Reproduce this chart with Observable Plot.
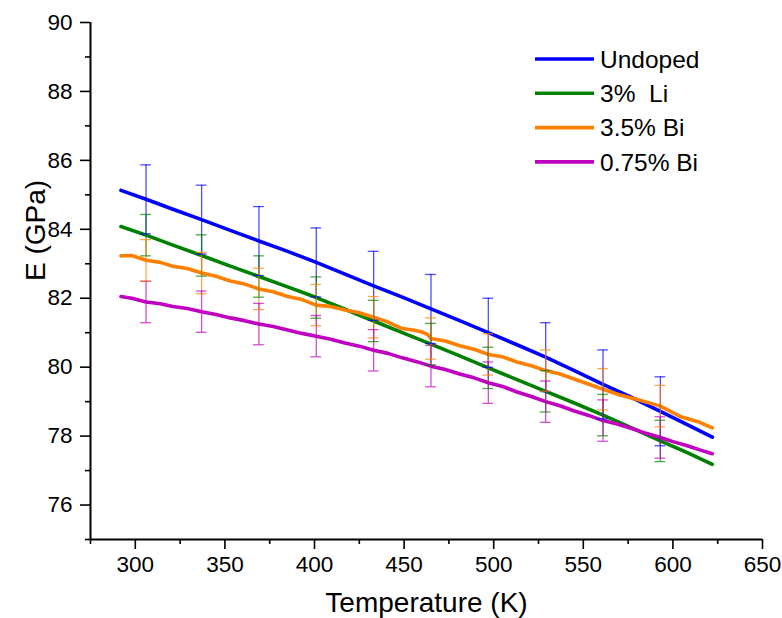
<!DOCTYPE html>
<html>
<head>
<meta charset="utf-8">
<script src="https://cdn.jsdelivr.net/npm/d3@7"></script>
<script src="https://cdn.jsdelivr.net/npm/@observablehq/plot@0.6"></script>
<style>
  html, body { margin: 0; padding: 0; background: #fff; overflow: hidden; }
  #chart svg { display: block; }
</style>
</head>
<body>
<div id="chart"></div>
<script>
// ---- Data ----
const seriesNames = ["Undoped", "3%  Li", "3.5% Bi", "0.75% Bi"];
const seriesColors = ["#0000ff", "#008000", "#ff8000", "#c000c0"];

const tBlue = [292, 306, 321, 337, 353, 369, 385, 401, 417, 433, 449, 465, 481, 497, 513, 529, 545, 561, 577, 593, 608, 622];
const eBlue = [85.13, 84.87, 84.58, 84.28, 83.97, 83.66, 83.36, 83.04, 82.70, 82.36, 82.03, 81.69, 81.35, 81.00, 80.65, 80.29, 79.90, 79.50, 79.12, 78.72, 78.33, 77.97];

const tGreen = [292, 306, 321, 337, 353, 369, 385, 401, 417, 433, 449, 465, 481, 497, 513, 529, 545, 561, 577, 593, 608, 622];
const eGreen = [84.08, 83.83, 83.54, 83.24, 82.93, 82.63, 82.33, 82.02, 81.68, 81.34, 81.00, 80.67, 80.33, 79.98, 79.64, 79.30, 78.96, 78.61, 78.24, 77.86, 77.52, 77.18];

const tOrange = [292, 298, 306, 314, 321, 329, 337, 345, 353, 361, 369, 377, 385, 393, 401, 409, 417, 425, 433, 441, 449, 455, 460, 463, 465, 473, 481, 489, 497, 505, 513, 521, 529, 537, 548, 561, 570, 582, 593, 604, 615, 622];
const eOrange = [83.23, 83.24, 83.10, 83.04, 82.93, 82.86, 82.73, 82.64, 82.50, 82.41, 82.27, 82.19, 82.05, 81.96, 81.80, 81.76, 81.66, 81.58, 81.45, 81.31, 81.12, 81.08, 81.02, 80.95, 80.83, 80.76, 80.62, 80.52, 80.37, 80.30, 80.15, 80.04, 79.90, 79.80, 79.60, 79.36, 79.20, 79.03, 78.87, 78.57, 78.40, 78.24];

const tPurple = [292, 298, 306, 314, 321, 329, 337, 345, 353, 361, 369, 377, 385, 393, 401, 409, 417, 425, 433, 441, 449, 457, 465, 473, 481, 489, 497, 505, 513, 521, 529, 537, 545, 553, 561, 569, 577, 585, 593, 600, 608, 615, 622];
const ePurple = [82.05, 82.00, 81.89, 81.84, 81.76, 81.70, 81.61, 81.53, 81.43, 81.35, 81.25, 81.18, 81.08, 80.98, 80.90, 80.81, 80.70, 80.61, 80.49, 80.40, 80.27, 80.16, 80.03, 79.93, 79.80, 79.69, 79.55, 79.44, 79.28, 79.15, 79.00, 78.88, 78.73, 78.60, 78.45, 78.35, 78.22, 78.08, 77.96, 77.84, 77.72, 77.60, 77.49];

// error bars
const errT = [306, 337, 369, 401, 433, 465, 497, 529, 561, 593];
const errBlue = [84.87, 84.28, 83.66, 83.04, 82.36, 81.69, 81.00, 80.29, 79.50, 78.72];
const errGreen = [83.83, 83.24, 82.63, 82.02, 81.34, 80.67, 79.98, 79.30, 78.61, 77.86];
const errOrange = [83.10, 82.73, 82.27, 81.80, 81.45, 80.83, 80.37, 79.90, 79.36, 78.87];
const errPurple = [81.89, 81.61, 81.25, 80.90, 80.49, 80.03, 79.55, 79.00, 78.45, 77.96];
const errSize = [1.0, 0.6, 0.6, 0.6];

// ticks
const xMajor = [300, 350, 400, 450, 500, 550, 600, 650];
const xMinor = [275, 325, 375, 425, 475, 525, 575, 625];
const yMajor = [76, 78, 80, 82, 84, 86, 88, 90];
const yMinor = [75, 77, 79, 81, 83, 85, 87, 89];

const xLabel = "Temperature (K)";
const yLabel = "E (GPa)";

// ---- Build tables ----
const lineT = [tBlue, tGreen, tOrange, tPurple];
const lineE = [eBlue, eGreen, eOrange, ePurple];
const lineData = [];
lineT.forEach((ts, i) => ts.forEach((t, j) => lineData.push({series: seriesNames[i], T: t, E: lineE[i][j]})));

const errCenters = [errBlue, errGreen, errOrange, errPurple];
const errData = [];
errCenters.forEach((cs, i) => cs.forEach((c, j) => errData.push({series: seriesNames[i], T: errT[j], lo: c - errSize[i], hi: c + errSize[i]})));

const colorOf = Object.fromEntries(seriesNames.map((s, i) => [s, seriesColors[i]]));
const capHalf = 3; // cap half-width in K

const font = "'Liberation Sans', Arial, Helvetica, sans-serif";

const chart = Plot.plot({
  width: 782,
  height: 618,
  marginLeft: 90,
  marginRight: 20,
  marginTop: 22,
  marginBottom: 79,
  style: {fontFamily: font, fontSize: "22.5px", color: "#000", background: "#fff", overflow: "visible"},
  x: {domain: [275, 650]},
  y: {domain: [75, 90]},
  marks: [
    // lines
    Plot.line(lineData, {x: "T", y: "E", z: "series", stroke: d => colorOf[d.series], strokeWidth: 3.6, curve: "linear"}),
    // error bars
    Plot.ruleX(errData, {x: "T", y1: "lo", y2: "hi", stroke: d => colorOf[d.series], strokeWidth: 1.3, strokeOpacity: 0.7}),
    Plot.ruleY(errData, {y: "hi", x1: d => d.T - capHalf, x2: d => d.T + capHalf, stroke: d => colorOf[d.series], strokeWidth: 1.3, strokeOpacity: 0.7}),
    Plot.ruleY(errData, {y: "lo", x1: d => d.T - capHalf, x2: d => d.T + capHalf, stroke: d => colorOf[d.series], strokeWidth: 1.3, strokeOpacity: 0.7}),
    // axes
    Plot.axisX({ticks: xMajor, tickSize: 10, tickPadding: 7, strokeWidth: 1.6, label: null, tickFormat: d => String(d)}),
    Plot.axisX({ticks: xMinor, tickSize: 5, strokeWidth: 1.6, label: null, tickFormat: () => ""}),
    Plot.axisY({ticks: yMajor, tickSize: 10, tickPadding: 8, strokeWidth: 1.6, label: null, tickFormat: d => String(d)}),
    Plot.axisY({ticks: yMinor, tickSize: 5, strokeWidth: 1.6, label: null, tickFormat: () => ""}),
    Plot.ruleY([75], {stroke: "#000", strokeWidth: 2}),
    Plot.ruleX([275], {stroke: "#000", strokeWidth: 2}),
    // axis titles
    Plot.text([xLabel], {frameAnchor: "bottom", dy: 72, lineAnchor: "bottom", fontSize: 28, fill: "#000"}),
    Plot.text([yLabel], {frameAnchor: "left", dx: -46, rotate: -90, lineAnchor: "bottom", fontSize: 28, fill: "#000"})
  ]
});

document.getElementById("chart").appendChild(chart);

// ---- Legend (inside plot, top right) ----
const svg = d3.select(chart);
const lg = svg.append("g").attr("font-family", font).attr("font-size", 24.5).attr("text-anchor", "start");
seriesNames.forEach((name, i) => {
  const y = 59 + i * 34.3;
  lg.append("line").attr("x1", 535).attr("x2", 594).attr("y1", y).attr("y2", y)
    .attr("stroke", seriesColors[i]).attr("stroke-width", 3.6);
  lg.append("text").attr("x", 600).attr("y", y).attr("dy", "0.36em")
    .attr("fill", "#000").attr("text-anchor", "start").style("white-space", "pre").text(name);
});
</script>
</body>
</html>
